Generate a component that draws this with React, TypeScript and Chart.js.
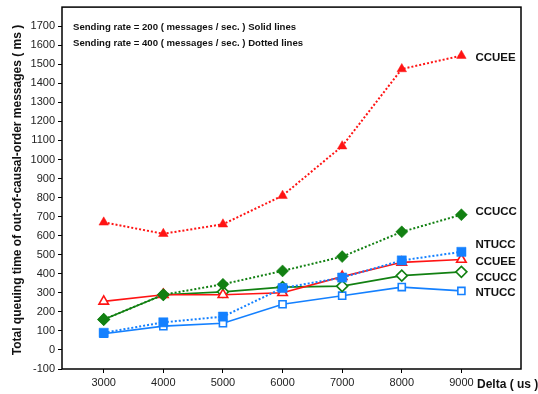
import React, { useEffect, useRef } from "react";
import { Chart, registerables } from "chart.js";

Chart.register(...registerables);

// Delta values (us)
const deltas = [3000, 4000, 5000, 6000, 7000, 8000, 9000];

// Total queuing time (ms), sending rate 400 msg/s (dotted)
const ccuee400 = [670, 610, 660, 810, 1070, 1475, 1545];
const ccucc400 = [160, 290, 345, 415, 490, 620, 710];
const ntucc400 = [90, 145, 175, 325, 380, 470, 515];

// Total queuing time (ms), sending rate 200 msg/s (solid)
const ccuee200 = [255, 290, 290, 300, 385, 460, 475];
const ccucc200 = [160, 290, 305, 330, 335, 390, 410];
const ntucc200 = [85, 125, 140, 240, 285, 330, 310];

// Y tick labels
const yTicks = [-100, 0, 100, 200, 300, 400, 500, 600, 700, 800, 900, 1000, 1100, 1200, 1300, 1400, 1500, 1600, 1700];

const legendLines = [
  "Sending rate = 200 ( messages / sec. ) Solid lines",
  "Sending rate = 400 ( messages / sec. ) Dotted lines",
];

// End-of-line labels: text and the value level they sit at
const endLabels = ["CCUEE", "CCUCC", "NTUCC", "CCUEE", "CCUCC", "NTUCC"];
const endLabelLevels = [1532, 724, 552, 464, 380, 302];

const RED = "#ff1414";
const GREEN = "#128012";
const BLUE = "#1480ff";

const FONT = "'Liberation Sans', Arial, sans-serif";

const pts = (vals: number[]) => vals.map((v, i) => ({ x: deltas[i], y: v }));

function series(label: string, vals: number[], color: string, style: string, dotted: boolean) {
  let radius = 5;
  if (style === "rectRot") radius = dotted ? 6 : 5.5;
  if (style === "rect") radius = dotted ? 6.5 : 5;
  if (style === "triangle") radius = 5.5;
  return {
    label,
    data: pts(vals),
    borderColor: color,
    borderWidth: dotted ? 2 : 1.6,
    borderDash: dotted ? [2, 2] : [],
    pointStyle: style,
    pointRadius: radius,
    pointBackgroundColor: dotted ? color : "#ffffff",
    pointBorderColor: color,
    pointBorderWidth: dotted ? 0.5 : 1.6,
    tension: 0,
    fill: false,
  };
}

const decorations = {
  id: "decorations",
  afterDraw(chart: any) {
    const { ctx, chartArea, scales } = chart;
    const sx = scales.x;
    const sy = scales.y;
    ctx.save();
    // frame
    ctx.strokeStyle = "#000";
    ctx.lineWidth = 1.5;
    ctx.strokeRect(chartArea.left, chartArea.top, chartArea.right - chartArea.left, chartArea.bottom - chartArea.top);

    // rate legend
    ctx.fillStyle = "#111";
    ctx.font = `bold 9.6px ${FONT}`;
    ctx.textBaseline = "middle";
    ctx.textAlign = "left";
    legendLines.forEach((t, i) => ctx.fillText(t, chartArea.left + 11, chartArea.top + 20.5 + i * 15.7));

    // end labels
    ctx.font = `bold 11.5px ${FONT}`;
    const xEnd = sx.getPixelForValue(deltas[deltas.length - 1]);
    endLabels.forEach((t, i) => {
      ctx.fillText(t, xEnd + 14, sy.getPixelForValue(endLabelLevels[i]));
    });

    // x axis title
    ctx.font = `bold 12px ${FONT}`;
    ctx.fillText("Delta ( us )", 477, chartArea.bottom + 16);

    // y axis title
    ctx.translate(18, (chartArea.top + chartArea.bottom) / 2 + 2);
    ctx.rotate(-Math.PI / 2);
    ctx.textAlign = "center";
    ctx.fillText("Total queuing time of out-of-causal-order messages ( ms )", 0, 0);
    ctx.restore();
  },
};

export default function App() {
  const ref = useRef<HTMLCanvasElement | null>(null);

  useEffect(() => {
    document.body.style.margin = "0";
    const canvas = ref.current;
    if (!canvas) return;
    const chart = new Chart(canvas, {
      type: "line",
      data: {
        datasets: [
          series("CCUEE 400", ccuee400, RED, "triangle", true),
          series("NTUCC 400", ntucc400, BLUE, "rect", true),
          series("CCUCC 400", ccucc400, GREEN, "rectRot", true),
          series("CCUEE 200", ccuee200, RED, "triangle", false),
          series("CCUCC 200", ccucc200, GREEN, "rectRot", false),
          series("NTUCC 200", ntucc200, BLUE, "rect", false),
        ] as any,
      },
      options: {
        animation: false,
        responsive: false,
        devicePixelRatio: 1,
        layout: { padding: { top: 5.5, right: 17, left: 0, bottom: 0 } },
        plugins: {
          legend: { display: false },
          tooltip: { enabled: false },
        },
        scales: {
          x: {
            type: "linear",
            min: 2300,
            max: 10000,
            afterBuildTicks: (scale: any) => {
              scale.ticks = deltas.map((v) => ({ value: v }));
            },
            afterFit: (scale: any) => {
              scale.height = 25;
              scale.paddingLeft = 0;
              scale.paddingRight = 0;
            },
            grid: { display: true, drawOnChartArea: false, drawTicks: true, tickLength: 4, color: "#000" },
            border: { display: false },
            ticks: {
              color: "#222",
              padding: 3,
              maxRotation: 0,
              font: { family: FONT, size: 11 },
              callback: (v: any) => String(v),
            },
          },
          y: {
            min: -100,
            max: 1800,
            afterBuildTicks: (scale: any) => {
              scale.ticks = yTicks.map((v) => ({ value: v }));
            },
            afterFit: (scale: any) => {
              scale.width = 62;
              scale.paddingTop = 0;
              scale.paddingBottom = 0;
            },
            grid: { display: true, drawOnChartArea: false, drawTicks: true, tickLength: 4, color: "#000" },
            border: { display: false },
            ticks: {
              color: "#222",
              padding: 3,
              font: { family: FONT, size: 11 },
              callback: (v: any) => String(v),
            },
          },
        },
      } as any,
      plugins: [decorations],
    });
    return () => chart.destroy();
  }, []);

  return (
    <div style={{ width: 538, height: 394, background: "#fff" }}>
      <canvas ref={ref} width={538} height={394} style={{ display: "block" }} />
    </div>
  );
}
